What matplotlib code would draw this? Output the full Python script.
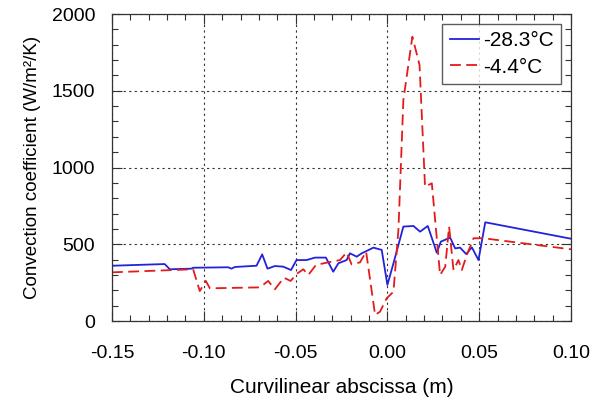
import matplotlib.pyplot as plt
from matplotlib.ticker import MultipleLocator

plt.rcParams['font.family'] = ['Liberation Sans', 'DejaVu Sans']

# -28.3 C series
x_cold = [-0.150, -0.1213, -0.1185, -0.1067, -0.1058, -0.0867, -0.0850, -0.0830,
          -0.0713, -0.0682, -0.0653, -0.0613, -0.0567, -0.0525, -0.0495, -0.0440,
          -0.0395, -0.0335, -0.0295, -0.0267, -0.0222, -0.0204, -0.0167, -0.0140,
          -0.0076, -0.0031, 0.0000, 0.0033, 0.0087, 0.0142, 0.0178, 0.0220,
          0.0269, 0.0291, 0.0342, 0.0369, 0.0396, 0.0429, 0.0460, 0.0496,
          0.0533, 0.100]
h_cold = [360, 371, 337, 341, 347, 350, 341, 352,
          360, 434, 341, 358, 354, 332, 397, 397,
          413, 413, 321, 376, 397, 441, 419, 441,
          478, 463, 235, 376, 615, 619, 582, 619,
          445, 517, 543, 473, 478, 436, 480, 397,
          643, 536]

# -4.4 C series
x_warm = [-0.150, -0.1058, -0.1022, -0.0989, -0.0967, -0.0695, -0.0649, -0.0613,
          -0.0564, -0.0527, -0.0495, -0.0458, -0.0431, -0.0389, -0.0331, -0.0258,
          -0.0222, -0.0195, -0.0149, -0.0116, -0.0067, -0.0040, -0.0004, 0.0033,
          0.0060, 0.0087, 0.0136, 0.0175, 0.0205, 0.0242, 0.0287, 0.0315,
          0.0336, 0.0360, 0.0387, 0.0405, 0.0436, 0.0451, 0.0469, 0.0524,
          0.100]
h_warm = [317, 337, 195, 261, 213, 219, 261, 206,
          282, 261, 306, 337, 300, 365, 380, 397,
          447, 369, 382, 452, 39, 61, 148, 191,
          593, 1440, 1852, 1668, 875, 897, 300, 354,
          615, 332, 397, 332, 441, 484, 539, 539,
          467]

xtick_labels = ['-0.15', '-0.10', '-0.05', '0.00', '0.05', '0.10']

fig = plt.figure(figsize=(6.02, 4.05), dpi=100)
ax = fig.add_axes([112 / 602, 1 - 321 / 405, (571 - 112) / 602, (321 - 14) / 405])

ax.plot(x_cold, h_cold, color='#2222dd', lw=1.3, label='-28.3°C')
ax.plot(x_warm, h_warm, color='#e21c1c', lw=1.3, dashes=(6, 3), label='-4.4°C')

ax.set_xlim(-0.15, 0.10)
ax.set_ylim(0, 2000)
ax.xaxis.set_minor_locator(MultipleLocator(0.01))
ax.yaxis.set_major_locator(MultipleLocator(500))
ax.yaxis.set_minor_locator(MultipleLocator(100))
ax.set_xticks([-0.15, -0.10, -0.05, 0.00, 0.05, 0.10])
ax.set_xticklabels(xtick_labels)

ax.tick_params(which='both', top=True, right=True, direction='in', labelsize=14, color='#333333')
ax.tick_params(which='major', length=7, width=0.8)
ax.tick_params(which='minor', length=4, width=0.8)
ax.tick_params(axis='x', which='major', pad=17)
ax.tick_params(axis='y', which='major', pad=12)
for s in ax.spines.values():
    s.set_color('#333333')
    s.set_linewidth(0.9)

ax.grid(True, which='major', color='#333333', linestyle=(0, (2, 3)), lw=0.8)

ax.set_xlabel('Curvilinear abscissa (m)', fontsize=15, labelpad=12)
ax.set_ylabel('Convection coefficient (W/m²/K)', fontsize=13.5, labelpad=8)

leg = ax.legend(loc='upper right', fontsize=15, frameon=True, fancybox=False,
                edgecolor='#333333', handlelength=1.4, handletextpad=0.2,
                borderpad=0.35, borderaxespad=0, labelspacing=0.35,
                bbox_to_anchor=(0.978, 0.967))
leg.get_frame().set_linewidth(1.0)

fig.savefig('out.png', dpi=100)
